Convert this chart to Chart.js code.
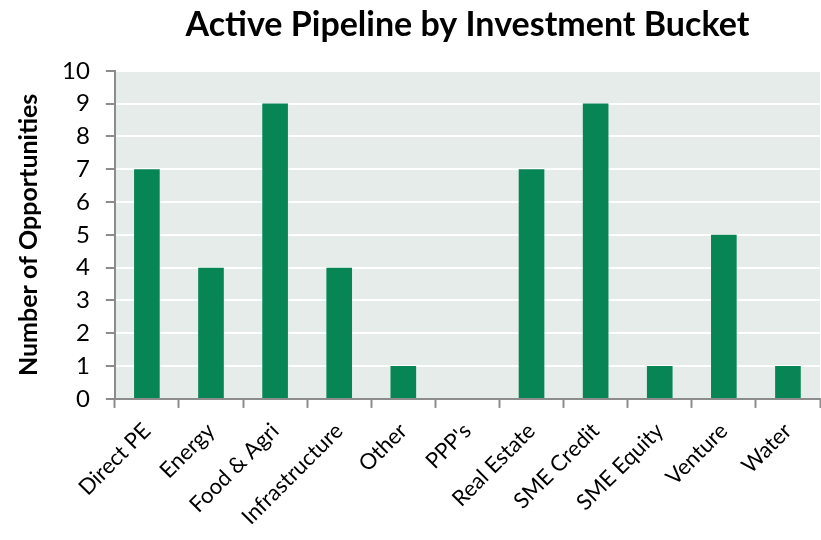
<!DOCTYPE html>
<html>
<head>
<meta charset="utf-8">
<script src="https://cdn.jsdelivr.net/npm/chart.js@4/dist/chart.umd.min.js"></script>
<style>
  body { margin: 0; background: #fff; }
  #wrap { width: 821px; height: 540px; }
</style>
</head>
<body>
<div id="wrap"><canvas id="pipelineChart" width="821" height="540"></canvas></div>
<script>
const buckets = ['Direct PE', 'Energy', 'Food & Agri', 'Infrastructure', 'Other', "PPP's",
    'Real Estate', 'SME Credit', 'SME Equity', 'Venture', 'Water'];
const opportunities = [7, 4, 9, 4, 1, 0, 7, 9, 1, 5, 1];
const yTicks = [0, 1, 2, 3, 4, 5, 6, 7, 8, 9, 10];

// fill the plot area with the light grey-green background
const plotBackground = {
    id: 'plotBackground',
    beforeDraw(chart) {
        const {ctx, chartArea: a} = chart;
        ctx.save();
        ctx.fillStyle = '#e6ecea';
        ctx.fillRect(a.left, a.top, a.right - a.left, a.bottom - a.top);
        ctx.restore();
    },
};

const ctx = document.getElementById('pipelineChart').getContext('2d');
new Chart(ctx, {
    type: 'bar',
    data: {
        labels: buckets,
        datasets: [{
            label: 'Opportunities',
            data: opportunities,
            backgroundColor: '#088554',
            categoryPercentage: 0.8,
            barPercentage: 0.5,
        }],
    },
    options: {
        responsive: false,
        animation: false,
        layout: {padding: {left: 6, right: 1, top: 4, bottom: 0}},
        plugins: {
            legend: {display: false},
            tooltip: {enabled: false},
            title: {
                display: true,
                fullSize: false,
                text: 'Active Pipeline by Investment Bucket',
                color: '#000',
                font: {family: 'Lato', size: 34, weight: 'bold'},
                padding: {top: 1, bottom: 25},
            },
        },
        scales: {
            x: {
                grid: {display: true, drawOnChartArea: false, offset: true, tickLength: 9, tickColor: '#8c8c8c', tickWidth: 2},
                border: {color: '#8c8c8c', width: 2},
                ticks: {
                    color: '#000',
                    font: {family: 'Lato', size: 22},
                    minRotation: 45,
                    maxRotation: 45,
                    padding: 10,
                },
            },
            y: {
                min: 0,
                max: 10,
                afterBuildTicks: (axis) => { axis.ticks = yTicks.map(v => ({value: v})); },
                grid: {color: '#ffffff', lineWidth: 2, tickLength: 9, tickColor: '#8c8c8c', tickWidth: 2},
                border: {color: '#8c8c8c', width: 2},
                ticks: {color: '#000', font: {family: 'Lato', size: 24}, padding: 16},
                title: {
                    display: true,
                    text: 'Number of Opportunities',
                    color: '#000',
                    font: {family: 'Lato', size: 25, weight: 'bold'},
                    padding: {top: 8, bottom: 2},
                },
            },
        },
    },
    plugins: [plotBackground],
});
</script>
</body>
</html>
